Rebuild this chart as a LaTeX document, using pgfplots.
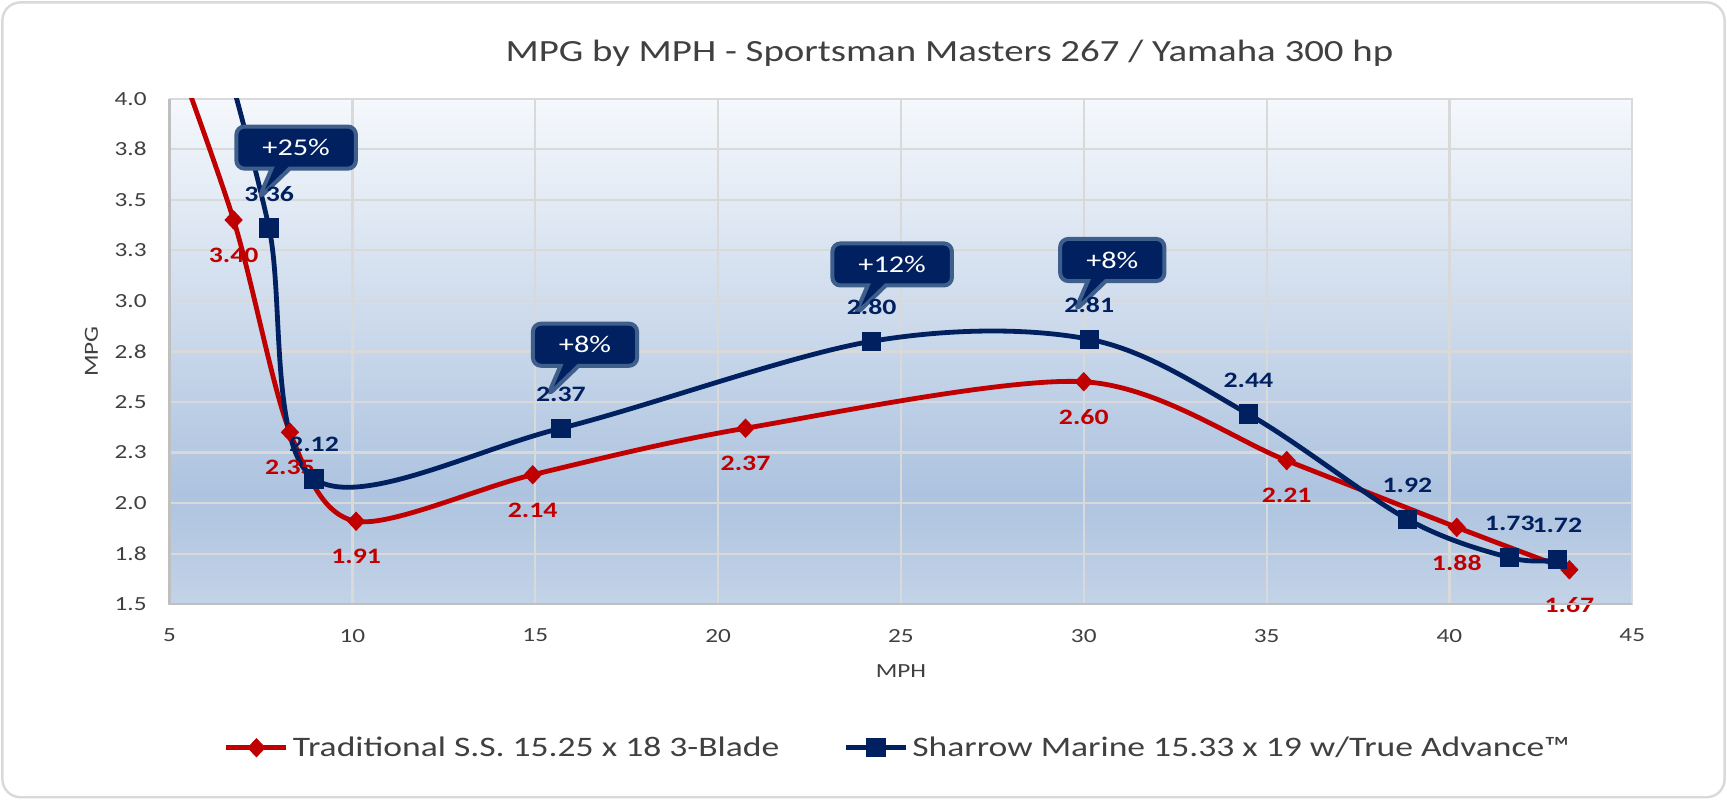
\documentclass[border=0pt]{standalone}
\usepackage{pgfplots}
\pgfplotsset{compat=1.18}
\usepackage{pgfplotstable}
\usetikzlibrary{shapes.callouts}
\usepackage{fontspec}
\setmainfont{Carlito}[FakeStretch=1.26]
\definecolor{navy}{HTML}{002060}
\definecolor{myred}{HTML}{C00000}
\definecolor{cborder}{HTML}{3E5F8C}
\definecolor{txt}{HTML}{404040}
\definecolor{gridc}{HTML}{D9D9D9}
\definecolor{axc}{HTML}{BFBFBF}
\definecolor{bgtop}{HTML}{F5F8FC}
\definecolor{bgdark}{HTML}{ADC3DF}
\definecolor{bgbot}{HTML}{C3D3E7}
\pgfdeclareverticalshading{plotbg}{100bp}{color(0bp)=(bgbot); color(25bp)=(bgbot); color(36bp)=(bgdark); color(75bp)=(bgtop); color(100bp)=(bgtop)}

\pgfplotstableread{
x y label
4.6 4.50 none
6.75 3.40 3.40
8.29 2.35 2.35
10.1 1.91 1.91
14.93 2.14 2.14
20.75 2.37 2.37
30.0 2.60 2.60
35.55 2.21 2.21
40.2 1.88 1.88
43.28 1.67 1.67
}\redtab

\pgfplotstableread{
x y label
6.3 4.35 none
7.72 3.36 3.36
8.95 2.12 2.12
15.7 2.37 2.37
24.2 2.80 2.80
30.15 2.81 2.81
34.5 2.44 2.44
38.85 1.92 1.92
41.65 1.73 1.73
42.95 1.72 1.72
}\bluetab

\begin{document}
\begin{tikzpicture}
\useasboundingbox (-84.7pt,-97.6pt) rectangle (777.7pt,301.7pt);
\draw[rounded corners=9pt, draw=gridc, line width=1.2pt, fill=white] (-83.5pt,-96.4pt) rectangle (776.5pt,300.5pt);
\begin{axis}[
  at={(0pt,0pt)}, anchor=south west,
  scale only axis, width=730.4pt, height=252.45pt,
  xmin=5, xmax=45, ymin=1.5, ymax=4.0,
  xtick={5,10,15,20,25,30,35,40,45},
  xticklabels={5,10,15,20,25,30,35,40,45},
  ytick={1.5,1.75,2,2.25,2.5,2.75,3,3.25,3.5,3.75,4},
  yticklabels={1.5,1.8,2.0,2.3,2.5,2.8,3.0,3.3,3.5,3.8,4.0},
  xmajorgrids, ymajorgrids,
  major grid style={gridc, line width=1.1pt},
  major tick length=0pt,
  axis line style={draw=gridc, line width=1.1pt},
  ticklabel style={font=\fontsize{10}{12}\selectfont, text=txt},
  xticklabel style={anchor=center, yshift=-15.7pt},
  yticklabel style={anchor=east, inner sep=0pt, xshift=-11.3pt},
  xlabel={MPH}, ylabel={MPG},
  every axis x label/.style={at={(axis description cs:0.5,0)}, anchor=center, yshift=-33.3pt, font=\fontsize{10}{12}\selectfont, text=txt},
  every axis y label/.style={at={(axis description cs:-0.0534,0.5)}, anchor=center, rotate=90, font=\fontsize{10}{12}\selectfont, text=txt},
  axis background/.style={shading=plotbg},
  legend columns=2,
  legend cell align=left,
  legend style={at={(axis description cs:0.4985,-0.284)}, anchor=center, draw=none, fill=none,
    font=\fontsize{14.1}{16}\selectfont, text=txt,
    /tikz/every even column/.append style={column sep=30pt}},
  legend image code/.code={\draw[mark repeat=2, mark phase=2, #1] plot coordinates {(0pt,0pt) (15pt,0pt) (30pt,0pt)};},
  after end axis/.code={\draw[axc, line width=1.3pt] (rel axis cs:0,1) -- (rel axis cs:0,0) -- (rel axis cs:1,0);},
]
% lines (including the point above the top of the axis)
\addplot[forget plot, myred, line width=2.4pt, smooth, tension=0.5, mark=none]
  table[x=x, y=y] {\redtab};
\addplot[forget plot, navy, line width=2.4pt, smooth, tension=0.55, mark=none]
  table[x=x, y=y] {\bluetab};
% markers and labels
\addplot[forget plot, only marks, mark=diamond*, mark size=4.5pt,
  mark options={solid, fill=myred, draw=myred, line width=0.5pt, xscale=1.25},
  skip coords between index={0}{1},
  point meta=explicit symbolic, nodes near coords,
  nodes near coords style={font=\bfseries\fontsize{11}{13}\selectfont, text=myred, anchor=center, yshift=-17.6pt}]
  table[x=x, y=y, meta=label] {\redtab};
\addplot[forget plot, only marks, mark=square*, mark size=4.6pt,
  mark options={solid, fill=navy, draw=navy, line width=0.5pt},
  skip coords between index={0}{1},
  point meta=explicit symbolic, nodes near coords,
  nodes near coords style={font=\bfseries\fontsize{11}{13}\selectfont, text=navy, anchor=center, yshift=17pt}]
  table[x=x, y=y, meta=label] {\bluetab};

\addlegendimage{myred, line width=2.4pt, mark=diamond*, mark size=4.5pt, mark options={solid, fill=myred, draw=myred, line width=0.5pt, xscale=1.25}}
\addlegendentry{Traditional S.S. 15.25 x 18 3-Blade}
\addlegendimage{navy, line width=2.4pt, mark=square*, mark size=4.6pt, mark options={solid, fill=navy, draw=navy, line width=0.5pt}}
\addlegendentry{Sharrow Marine 15.33 x 19 w/True Advance™}

\tikzset{callbox/.style={rectangle callout, fill=navy, draw=cborder, line width=2pt, rounded corners=4pt,
  text=white, font=\fontsize{12}{14}\selectfont, minimum height=21pt, inner xsep=13pt,
  callout relative pointer={(-11pt,-15pt)}, callout pointer width=9pt}}
\node[callbox] at (axis cs:8.46,3.758) {+25\%};
\node[callbox] at (axis cs:16.36,2.783) {+8\%};
\node[callbox] at (axis cs:24.76,3.18) {+12\%};
\node[callbox] at (axis cs:30.78,3.202) {+8\%};
\end{axis}
\node[font=\fontsize{15.4}{18}\selectfont, text=txt] at (389.4pt,275.3pt) {MPG by MPH - Sportsman Masters 267 / Yamaha 300 hp};
\end{tikzpicture}
\end{document}
